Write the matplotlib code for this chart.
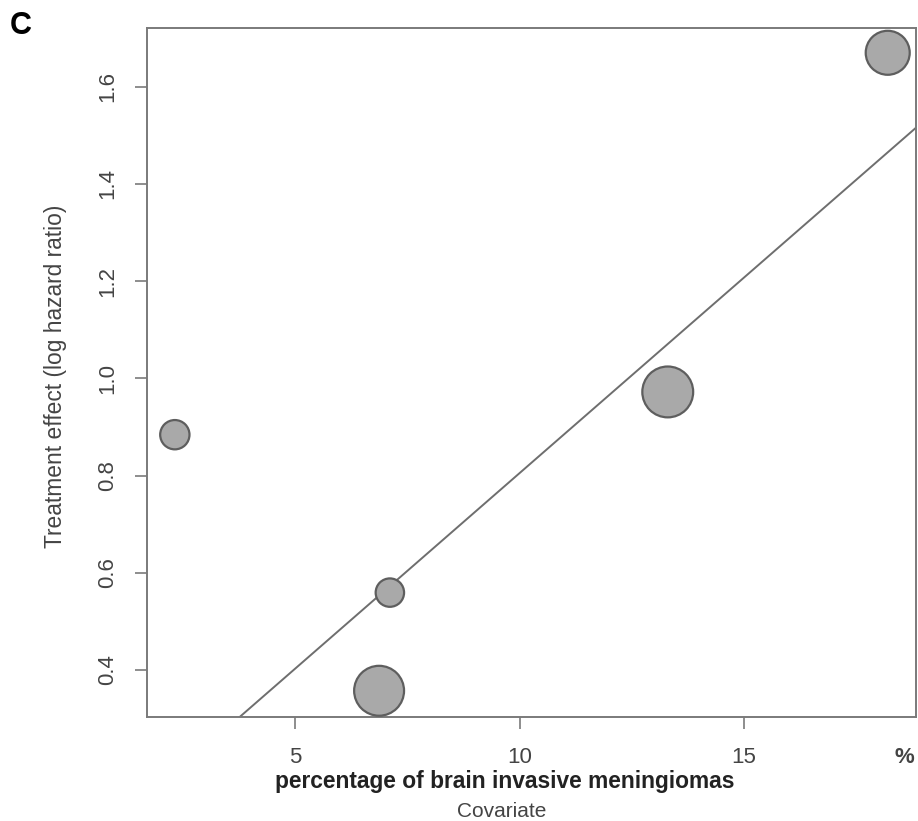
import matplotlib
matplotlib.use("Agg")
import matplotlib.pyplot as plt
import numpy as np

plt.rcParams['font.family'] = ['Liberation Sans', 'DejaVu Sans']

# Data
covariate = [2.32, 7.11, 6.87, 13.30, 18.20]          # % brain invasive meningiomas
effect = [0.884, 0.559, 0.357, 0.972, 1.670]           # log hazard ratio
weights = [9.9, 9.3, 28.7, 29.8, 22.3]                 # study weights (%)
fit_intercept = 0.0
fit_slope = 0.0805
x_ticks = [5, 10, 15]
y_ticks = [0.4, 0.6, 0.8, 1.0, 1.2, 1.4, 1.6]

W, H = 918, 821
fig = plt.figure(figsize=(W / 100, H / 100), dpi=100)
ax = fig.add_axes([147 / W, 1 - 717 / H, (916 - 147) / W, (717 - 28) / H])

xlim = (1.70, 18.83)
ylim = (0.303, 1.721)
ax.set_xlim(*xlim)
ax.set_ylim(*ylim)

# regression line
xl = np.array(xlim)
ax.plot(xl, fit_intercept + fit_slope * xl, color='#6e6e6e', lw=1.4, zorder=2)

# bubbles: area proportional to weight
sizes = [w * 45.0 for w in weights]
ax.scatter(covariate, effect, s=sizes, facecolor='#a9a9a9', edgecolor='#5e5e5e',
           linewidth=1.6, zorder=3, clip_on=False)

for sp in ax.spines.values():
    sp.set_color('#7a7a7a')
    sp.set_linewidth(1.4)

ax.set_xticks(x_ticks)
ax.set_yticks(y_ticks)
ax.set_yticklabels([f"{v:.1f}" for v in y_ticks], rotation=90, va='center')
ax.tick_params(axis='both', direction='out', length=8.6, width=1.2, color='#7a7a7a',
               labelcolor='#444444', labelsize=16)
ax.tick_params(axis='x', pad=13)
ax.tick_params(axis='y', pad=12)

ax.text(18.58, -(757 - 717) / (717 - 28), '%', transform=ax.get_xaxis_transform(),
        ha='center', va='center', fontsize=16, color='#444444', fontweight='bold')

fig.text(505 / W, 1 - 781 / H, 'percentage of brain invasive meningiomas', ha='center',
         va='center', fontsize=16.4, fontweight='bold', color='#222222')
fig.text(502 / W, 1 - 811 / H, 'Covariate', ha='center', va='center', fontsize=15,
         color='#444444')
fig.text(56 / W, 1 - 376 / H, 'Treatment effect (log hazard ratio)', ha='center',
         va='center', rotation=90, fontsize=16.4, color='#444444')
fig.text(10 / W, 1 - 26 / H, 'C', ha='left', va='center', fontsize=22,
         fontweight='bold', color='black')

fig.savefig('out.png', dpi=100, facecolor='white')
